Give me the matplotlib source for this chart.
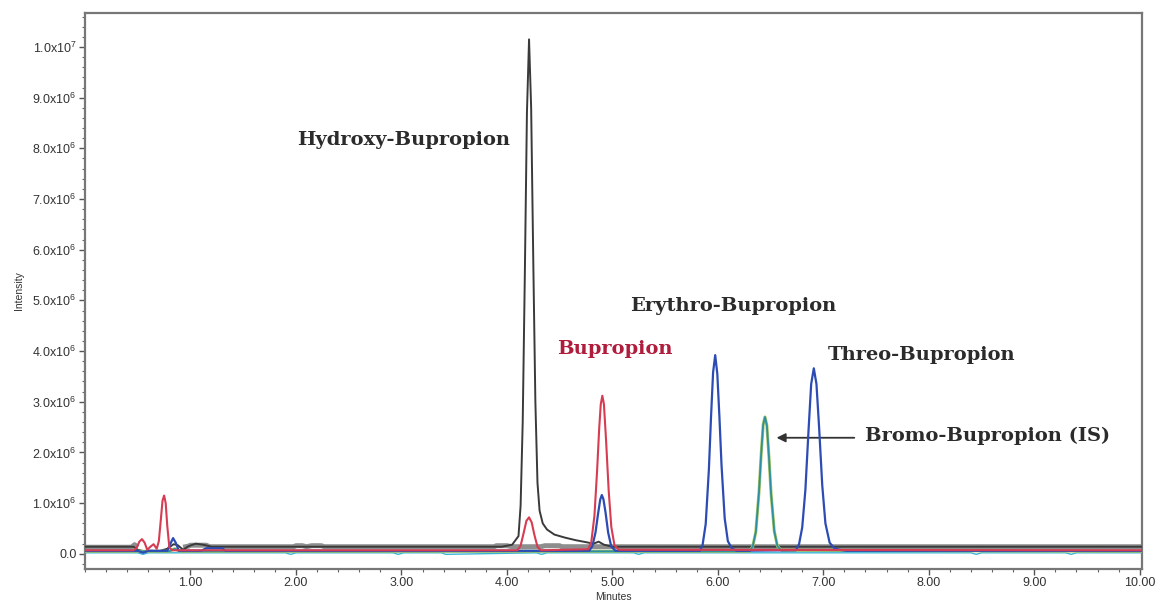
import matplotlib.pyplot as plt
from matplotlib.ticker import MultipleLocator, FuncFormatter

# retention time (min) / intensity (x1e6) for each trace
gray_t = [0.00, 0.44, 0.47, 0.50, None, 0.93, 0.98, 1.00, 1.15, 1.18, 1.98, 2.00, 2.06, 2.10, 2.15, 2.24, 2.27,
          3.88, 3.90, 4.00, 4.05, 4.32, 4.36, 4.50, 4.52, 7.42, 7.45, 10.02]
gray_v = [0.13, 0.13, 0.18, 0.13, None, 0.13, 0.15, 0.17, 0.17, 0.14, 0.14, 0.16, 0.16, 0.14, 0.16, 0.16, 0.14,
          0.14, 0.16, 0.16, 0.14, 0.14, 0.16, 0.16, 0.14, 0.14, 0.14, 0.14]

hydroxy_t = [0.00, 0.46, 0.50, 0.56, 0.62, 0.70, 0.78, 0.84, 0.88, 0.93, 0.98, 1.05, 1.12, 1.20, 3.95,
             4.05, 4.11, 4.13, 4.15, 4.17, 4.19, 4.21, 4.23, 4.25, 4.27, 4.29, 4.31, 4.34, 4.38, 4.45,
             4.55, 4.65, 4.75, 4.82, 4.87, 4.92, 5.00, 10.02]
hydroxy_v = [0.14, 0.14, 0.08, 0.05, 0.06, 0.05, 0.10, 0.19, 0.17, 0.08, 0.15, 0.20, 0.18, 0.14, 0.14,
             0.18, 0.35, 0.95, 2.60, 5.50, 8.70, 10.15, 8.80, 5.80, 3.00, 1.40, 0.85, 0.60, 0.48, 0.38,
             0.32, 0.27, 0.23, 0.20, 0.24, 0.18, 0.14, 0.14]

bupropion_t = [0.00, 0.46, 0.49, 0.515, 0.54, 0.565, 0.59, 0.62, 0.65, 0.68, 0.70, 0.72, 0.735, 0.75,
               0.765, 0.78, 0.80, 0.83, 4.10, 4.13, 4.16, 4.185, 4.21, 4.235, 4.26, 4.29, 4.32,
               4.77, 4.80, 4.83, 4.855, 4.875, 4.89, 4.905, 4.92, 4.94, 4.965, 4.99, 5.02, 5.06, 10.02]
bupropion_v = [0.07, 0.07, 0.12, 0.24, 0.29, 0.22, 0.08, 0.14, 0.19, 0.10, 0.25, 0.70, 1.05, 1.15,
               1.00, 0.55, 0.12, 0.07, 0.07, 0.16, 0.42, 0.65, 0.72, 0.62, 0.38, 0.14, 0.07,
               0.09, 0.23, 0.75, 1.63, 2.47, 2.95, 3.12, 2.95, 2.25, 1.25, 0.53, 0.17, 0.08, 0.07]

# erythro / threo and the small metabolite peak share one blue trace
blue_t = [0.00, 0.50, 0.55, 0.60, 0.78, 0.81, 0.835, 0.86, 0.89, 1.10, 1.15, 1.30, 1.33, 4.78, 4.81,
          4.84, 4.865, 4.885, 4.90, 4.915, 4.935, 4.96, 4.99, 5.03, 5.83, 5.855, 5.885, 5.915, 5.935,
          5.955, 5.975, 5.995, 6.015, 6.035, 6.065, 6.095, 6.135, 6.18, 6.74, 6.77, 6.80, 6.83, 6.86,
          6.885, 6.91, 6.935, 6.96, 6.99, 7.02, 7.06, 7.10, 7.15, 7.22, 10.02]
blue_v = [0.06, 0.06, 0.02, 0.06, 0.06, 0.20, 0.31, 0.22, 0.06, 0.06, 0.11, 0.11, 0.06, 0.06, 0.15,
          0.42, 0.80, 1.07, 1.16, 1.08, 0.82, 0.42, 0.14, 0.06, 0.06, 0.17, 0.59, 1.66, 2.68,
          3.58, 3.92, 3.55, 2.70, 1.75, 0.70, 0.25, 0.10, 0.06, 0.07, 0.19, 0.52, 1.26, 2.44,
          3.35, 3.66, 3.35, 2.50, 1.35, 0.60, 0.22, 0.12, 0.08, 0.06, 0.06]

bromo_t = [0.00, 0.80, 0.85, 0.90, 6.30, 6.33, 6.36, 6.39, 6.41, 6.43, 6.447, 6.465, 6.485, 6.505,
           6.535, 6.565, 6.60, 10.02]
bromo_v = [0.05, 0.05, 0.10, 0.05, 0.05, 0.14, 0.43, 1.21, 1.94, 2.55, 2.70, 2.53, 1.90, 1.18,
           0.45, 0.15, 0.07, 0.05]

blank_t = [0.00, 0.50, 0.55, 0.60, 1.90, 1.95, 2.00, 2.92, 2.97, 3.02, 3.38, 3.42, 4.28, 4.33,
           4.38, 5.20, 5.25, 5.30, 8.40, 8.45, 8.50, 9.30, 9.35, 9.40, 10.02]
blank_v = [0.02, 0.02, -0.01, 0.02, 0.02, -0.01, 0.02, 0.02, -0.01, 0.02, 0.02, -0.01, 0.02, -0.01,
           0.02, 0.02, -0.01, 0.02, 0.02, -0.01, 0.02, 0.02, -0.01, 0.02, 0.02]

y_ticks = [0, 1, 2, 3, 4, 5, 6, 7, 8, 9, 10]
x_ticks = [1, 2, 3, 4, 5, 6, 7, 8, 9, 10]

plt.rcParams['font.family'] = ['Liberation Sans', 'DejaVu Sans']

fig = plt.figure(figsize=(11.55, 6.08), dpi=100)
ax = fig.add_axes([0.0736, 0.0641, 0.915, 0.9145])


def gaps(t, v):
    tt = [float('nan') if a is None else a for a in t]
    vv = [float('nan') if a is None else a for a in v]
    return tt, vv


ax.plot(*gaps(gray_t, gray_v), color='#8e8e8e', lw=3.6, solid_capstyle='butt', zorder=2)
ax.plot(hydroxy_t, hydroxy_v, color='#3a3a3a', lw=1.4, zorder=3)
ax.plot(blank_t, blank_v, color='#3cb4d8', lw=1.0, zorder=2.5)
ax.plot(bromo_t, bromo_v, color='#a8c860', lw=2.2, zorder=3)
ax.plot(bromo_t, bromo_v, color='#2f8fa2', lw=1.3, zorder=3.1)
ax.plot(blue_t, blue_v, color='#2c4cb4', lw=1.6, zorder=4)
ax.plot(bupropion_t, bupropion_v, color='#d63c52', lw=1.5, zorder=5)

ax.set_xlim(0, 10.02)
ax.set_ylim(-0.3, 10.67)

ax.set_xticks(x_ticks)
ax.xaxis.set_minor_locator(MultipleLocator(0.2))
ax.xaxis.set_major_formatter(FuncFormatter(lambda v, p: f'{v:.2f}'))
ax.set_yticks(y_ticks)
ax.yaxis.set_minor_locator(MultipleLocator(0.2))


def y_fmt(v, pos):
    if v == 0:
        return '0.0'
    if v >= 10:
        return r'$\mathregular{1.0x10^{7}}$'
    return r'$\mathregular{%.1fx10^{6}}$' % v


ax.yaxis.set_major_formatter(FuncFormatter(y_fmt))
ax.tick_params(which='major', direction='out', length=4, width=1.0, color='#555555',
               labelsize=9, labelcolor='#333333', pad=2)
ax.tick_params(which='minor', direction='out', length=2.5, width=0.8, color='#666666')

for s in ax.spines.values():
    s.set_color('#777777')
    s.set_linewidth(1.6)

ax.set_xlabel('Minutes', fontsize=7.5, color='#333333', labelpad=2)
ax.set_ylabel('Intensity', fontsize=7.5, color='#333333', labelpad=6)

txt = dict(family='DejaVu Serif', weight='bold', fontsize=14, va='center', ha='left')
ax.text(2.01, 8.17, 'Hydroxy-Bupropion', color='#2b2b2b', **txt)
ax.text(4.48, 4.04, 'Bupropion', color='#b01c3c', **txt)
ax.text(5.17, 4.89, 'Erythro-Bupropion', color='#2b2b2b', **txt)
ax.text(7.04, 3.93, 'Threo-Bupropion', color='#2b2b2b', **txt)
ax.text(7.40, 2.33, 'Bromo-Bupropion (IS)', color='#2b2b2b', **txt)
ax.annotate('', xy=(6.53, 2.29), xytext=(7.32, 2.29),
            arrowprops=dict(arrowstyle='-|>', color='#333333', lw=1.3, mutation_scale=13))

plt.savefig('out.png', dpi=100)
